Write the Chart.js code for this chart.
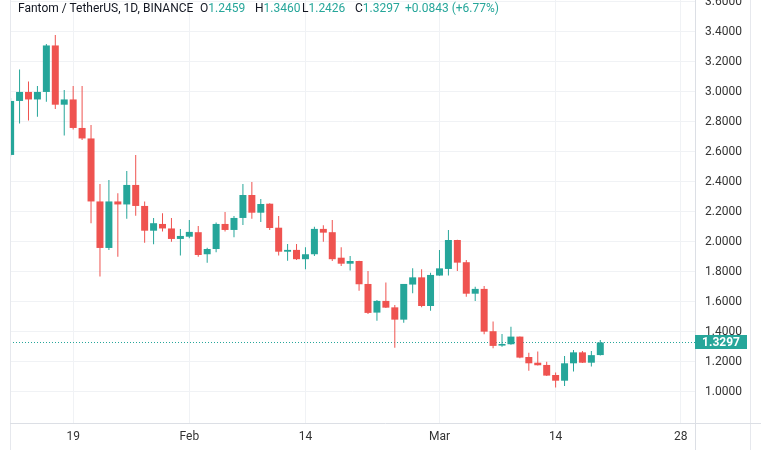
<!DOCTYPE html>
<html><head><meta charset="utf-8">
<script src="https://cdn.jsdelivr.net/npm/chart.js@4/dist/chart.umd.min.js"></script>
<style>
html,body{margin:0;padding:0;background:#fff;}
#wrap{position:relative;width:761px;height:450px;overflow:hidden;}
#c{position:absolute;left:0;top:0;}
.hd{position:absolute;top:0px;font:12px Roboto, "Liberation Sans", sans-serif;color:#131722;white-space:nowrap;line-height:16px;}
.v{color:#26a69a;}
</style></head><body>
<div id="wrap"><canvas id="c" width="761" height="450"></canvas><div id="hdr"></div></div>
<script>
// ---- data ----
const title = 'Fantom / TetherUS, 1D, BINANCE';
const dates = ['2022-01-12','2022-01-13','2022-01-14','2022-01-15','2022-01-16','2022-01-17','2022-01-18','2022-01-19','2022-01-20','2022-01-21',
'2022-01-22','2022-01-23','2022-01-24','2022-01-25','2022-01-26','2022-01-27','2022-01-28','2022-01-29','2022-01-30','2022-01-31',
'2022-02-01','2022-02-02','2022-02-03','2022-02-04','2022-02-05','2022-02-06','2022-02-07','2022-02-08','2022-02-09','2022-02-10',
'2022-02-11','2022-02-12','2022-02-13','2022-02-14','2022-02-15','2022-02-16','2022-02-17','2022-02-18','2022-02-19','2022-02-20',
'2022-02-21','2022-02-22','2022-02-23','2022-02-24','2022-02-25','2022-02-26','2022-02-27','2022-02-28','2022-03-01','2022-03-02',
'2022-03-03','2022-03-04','2022-03-05','2022-03-06','2022-03-07','2022-03-08','2022-03-09','2022-03-10','2022-03-11','2022-03-12',
'2022-03-13','2022-03-14','2022-03-15','2022-03-16','2022-03-17','2022-03-18','2022-03-19'];
const opens  = [2.58,2.94,3.00,2.95,3.00,3.31,2.915,2.95,2.76,2.69,
2.27,1.96,2.27,2.25,2.38,2.24,2.075,2.12,2.09,2.02,
2.035,2.065,1.918,1.953,2.12,2.08,2.16,2.313,2.195,2.255,
2.095,1.935,1.947,1.885,1.918,2.087,2.065,1.895,1.855,1.873,
1.72,1.529,1.607,1.564,1.482,1.716,1.764,1.573,1.776,1.82,
2.013,1.865,1.655,1.687,1.405,1.309,1.318,1.369,1.233,1.195,
1.18,1.113,1.075,1.191,1.264,1.195,1.2459];
const highs  = [2.96,3.15,3.07,3.04,3.32,3.38,3.013,3.04,3.04,2.78,
2.387,2.413,2.324,2.473,2.58,2.27,2.16,2.191,2.16,2.087,
2.147,2.107,1.962,2.129,2.2,2.173,2.387,2.4,2.287,2.258,
2.173,1.987,1.987,1.965,2.102,2.111,2.147,1.965,1.907,1.875,
1.807,1.613,1.729,1.58,1.72,1.824,1.818,1.795,1.947,2.08,
2.015,1.88,1.702,1.707,1.469,1.387,1.435,1.37,1.262,1.269,
1.202,1.129,1.24,1.28,1.273,1.273,1.3460];
const lows   = [2.57,2.79,2.81,2.835,2.935,2.887,2.71,2.75,2.68,2.124,
1.769,1.947,1.902,2.155,2.175,1.995,1.985,2.069,2.002,1.909,
2.024,1.902,1.862,1.931,2.069,2.031,2.113,2.155,2.133,2.08,
1.909,1.875,1.88,1.818,1.907,2.002,1.873,1.84,1.809,1.675,
1.52,1.475,1.56,1.295,1.462,1.658,1.564,1.542,1.774,1.776,
1.807,1.635,1.607,1.385,1.291,1.302,1.315,1.225,1.142,1.176,
1.107,1.029,1.04,1.136,1.193,1.169,1.2426];
const closes = [2.94,3.00,2.95,3.00,3.31,2.915,2.95,2.76,2.69,2.27,
1.96,2.27,2.25,2.38,2.24,2.075,2.125,2.09,2.02,2.04,
2.067,1.913,1.953,2.12,2.08,2.16,2.313,2.195,2.253,2.093,
1.935,1.947,1.885,1.918,2.087,2.062,1.885,1.855,1.873,1.718,
1.527,1.607,1.562,1.482,1.72,1.764,1.573,1.78,1.824,2.013,
1.862,1.655,1.687,1.402,1.307,1.32,1.369,1.229,1.191,1.178,
1.109,1.075,1.191,1.264,1.195,1.2454,1.3297];
const tickDates  = ['2022-01-19','2022-02-01','2022-02-14','2022-03-01','2022-03-14','2022-03-28'];
const tickLabels = ['19','Feb','14','Mar','14','28'];
const yTicks = [1.0,1.2,1.4,1.6,1.8,2.0,2.2,2.4,2.6,2.8,3.0,3.2,3.4,3.6];

// ---- helpers ----
const GREEN = '#26a69a', RED = '#ef5350';
const DAY = 86400000;
const t0 = Date.parse(dates[0] + 'T00:00:00Z');
const dayIdx = s => (Date.parse(s + 'T00:00:00Z') - t0) / DAY;
const xs = dates.map(dayIdx);
const colors = closes.map((c, i) => c >= opens[i] ? GREEN : RED);
const n = closes.length;
const lastC = closes[n-1], prevC = closes[n-2];
const chg = lastC - prevC;

// header
const hdr = document.getElementById('hdr');
const parts = [
  [18, title, null],
  [200, 'O', opens[n-1].toFixed(4)],
  [255, 'H', highs[n-1].toFixed(4)],
  [302, 'L', lows[n-1].toFixed(4)],
  [355, 'C', lastC.toFixed(4)],
  [405, '', (chg >= 0 ? '+' : '') + chg.toFixed(4) + ' (' + (chg >= 0 ? '+' : '') + (chg / prevC * 100).toFixed(2) + '%)']
];
parts.forEach(([x, a, b]) => {
  const d = document.createElement('div');
  d.className = 'hd';
  d.style.left = x + 'px';
  d.textContent = a;
  if (b !== null) { const s = document.createElement('span'); s.className = 'v'; s.textContent = b; d.appendChild(s); }
  hdr.appendChild(d);
});

const overlay = {
  id: 'overlay',
  beforeDatasetsDraw(chart) {
    const {ctx, chartArea: a, scales: {y}} = chart;
    const py = Math.round(y.getPixelForValue(lastC)) + 0.5;
    ctx.save();
    ctx.strokeStyle = GREEN; ctx.lineWidth = 1; ctx.setLineDash([1, 2]);
    ctx.beginPath(); ctx.moveTo(a.left, py); ctx.lineTo(a.right, py); ctx.stroke();
    ctx.restore();
  },
  afterDraw(chart) {
    const {ctx, chartArea: a, scales: {y}} = chart;
    ctx.save();
    ctx.lineWidth = 1;
    ctx.strokeStyle = '#e6e8ed';
    ctx.beginPath(); ctx.moveTo(a.left + 0.5, 0); ctx.lineTo(a.left + 0.5, 450); ctx.stroke();
    ctx.beginPath(); ctx.moveTo(750.5, 0); ctx.lineTo(750.5, 450); ctx.stroke();
    ctx.strokeStyle = '#dcdfe5';
    ctx.beginPath(); ctx.moveTo(a.right + 0.5, 0); ctx.lineTo(a.right + 0.5, 450); ctx.stroke();
    ctx.beginPath(); ctx.moveTo(a.left, a.bottom + 0.5); ctx.lineTo(761, a.bottom + 0.5); ctx.stroke();
    // price label
    const py = y.getPixelForValue(lastC);
    ctx.fillStyle = GREEN;
    ctx.fillRect(a.right, Math.round(py - 7), 52, 14);
    ctx.fillStyle = '#fff';
    ctx.font = 'bold 12px Roboto, "Liberation Sans", sans-serif';
    ctx.textAlign = 'center'; ctx.textBaseline = 'middle';
    ctx.fillText(lastC.toFixed(4), a.right + 26, Math.round(py) + 0.5);
    ctx.restore();
  }
};

new Chart(document.getElementById('c'), {
  type: 'bar',
  data: {
    datasets: [
      { data: xs.map((x, i) => ({x, y: [lows[i], highs[i]]})), backgroundColor: colors, barThickness: 1, grouped: false, borderWidth: 0, inflateAmount: 0 },
      { data: xs.map((x, i) => ({x, y: [opens[i], closes[i]]})), backgroundColor: colors, barThickness: 7, grouped: false, borderWidth: 0, inflateAmount: 0 }
    ]
  },
  options: {
    responsive: false, animation: false, devicePixelRatio: 1,
    layout: { padding: { left: 10, top: 0, right: 0, bottom: 0 } },
    plugins: { legend: { display: false }, tooltip: { enabled: false } },
    scales: {
      x: {
        type: 'linear', offset: false, min: -0.07, max: 76.6,
        afterBuildTicks: s => { s.ticks = tickDates.map(d => ({value: dayIdx(d)})); },
        afterFit: s => { s.height = 27; s.paddingLeft = 0; s.paddingRight = 0; },
        grid: { color: '#f0f2f5', drawTicks: false, offset: false },
        border: { display: false },
        ticks: { autoSkip: false, maxRotation: 0, padding: 7, color: '#333', font: { family: 'Roboto', size: 12 },
          callback: (v, i) => tickLabels[i] }
      },
      y: {
        position: 'right', min: 0.793, max: 3.613,
        afterBuildTicks: s => { s.ticks = yTicks.map(v => ({value: v})); },
        afterFit: s => { s.width = 66; s.paddingTop = 0; s.paddingBottom = 0; },
        grid: { color: '#f0f2f5', drawTicks: false },
        border: { display: false },
        ticks: { padding: 10, color: '#333', font: { family: 'Roboto', size: 12 }, callback: v => Number(v).toFixed(4) }
      }
    }
  },
  plugins: [overlay]
});
</script>
</body></html>
